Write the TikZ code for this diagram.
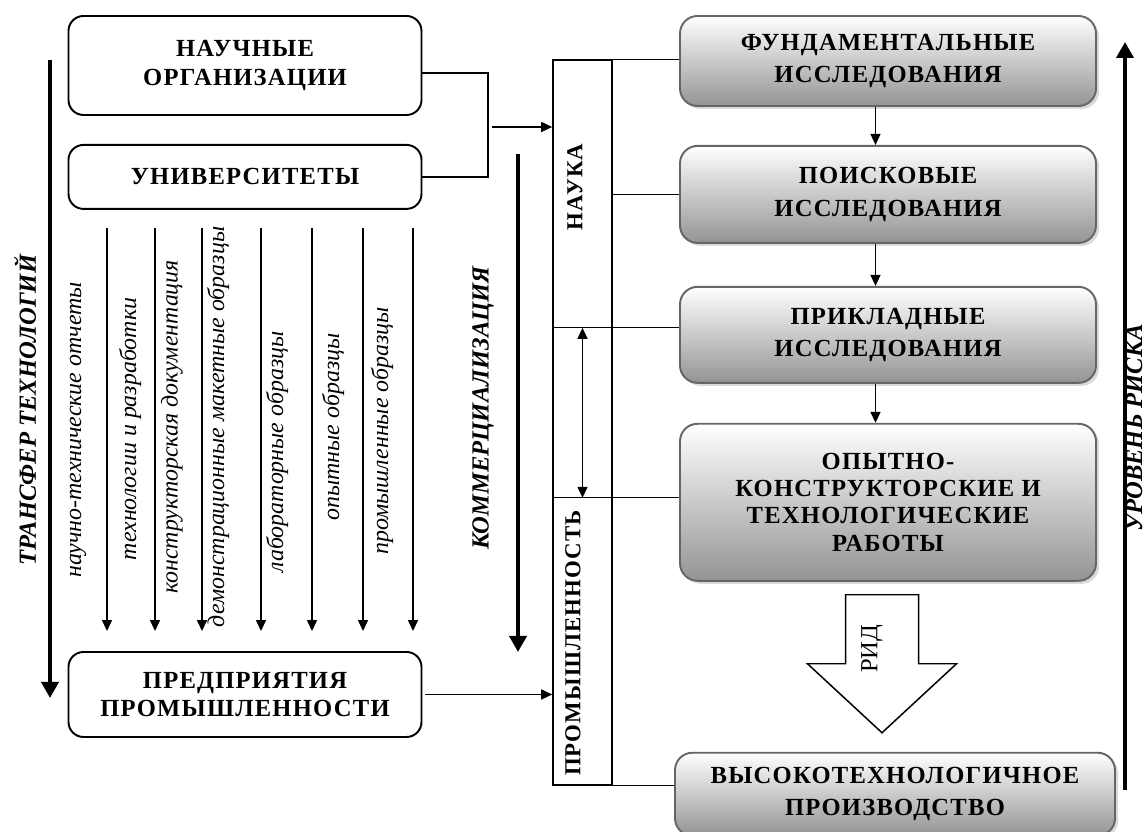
\documentclass[tikz,border=0pt]{standalone}
\usepackage{fontspec}
\setmainfont{Liberation Serif}
\newfontfamily\capsfont[LetterSpace=5.0]{Liberation Serif}
\usetikzlibrary{arrows.meta, positioning, shadows}

\begin{document}
\begin{tikzpicture}[
  node distance = 0.8cm,
  orgbox/.style   = {draw, rectangle, rounded corners=0.3cm, line width=1.1pt,
                     fill=white, minimum width=7.06cm,
                     align=center, font=\capsfont\bfseries\fontsize{14}{16}\selectfont},
  stagebox/.style = {draw=black!60, rectangle, rounded corners=0.35cm, line width=1.1pt,
                     top color=white, bottom color=black!42,
                     drop shadow={shadow xshift=0.06cm, shadow yshift=-0.06cm, opacity=0.3},
                     minimum width=8.32cm,
                     align=center, font=\capsfont\bfseries\fontsize{14}{18.5}\selectfont},
  strip/.style    = {draw, rectangle, line width=0.9pt,
                     minimum width=1.18cm, minimum height=14.5cm, inner sep=0pt},
  striptxt/.style = {rotate=90, font=\capsfont\bfseries\fontsize{13}{15}\selectfont},
  flowlbl/.style  = {rotate=90, font=\itshape\fontsize{13.6}{16}\selectfont, inner sep=0pt},
  sidelbl/.style  = {rotate=90, font=\bfseries\itshape\fontsize{14}{16}\selectfont, inner sep=0pt},
  link/.style     = {line width=0.7pt},
  arr/.style      = {-{Triangle[length=0.22cm, width=0.2cm]}, line width=0.85pt},
  twoway/.style   = {{Triangle[length=0.22cm, width=0.2cm]}-{Triangle[length=0.22cm, width=0.2cm]},
                     line width=0.85pt},
  fat/.style      = {-{Triangle[length=0.32cm, width=0.34cm]}, line width=2.1pt},
  hollow/.style   = {draw, line width=0.85pt, fill=white},
]
\useasboundingbox (0,0) rectangle (22.94,16.64);

%── Этапы (справа, сверху вниз) ───────────────────────────────────────────
\node[stagebox, minimum height=1.8cm] (fund) at (17.76,15.42)
  {ФУНДАМЕНТАЛЬНЫЕ\\ИССЛЕДОВАНИЯ};

\node[stagebox, minimum height=1.94cm, below=0.76cm of fund] (poisk)
  {ПОИСКОВЫЕ\\ИССЛЕДОВАНИЯ};

\node[stagebox, minimum height=1.92cm, below=0.84cm of poisk] (prikl)
  {ПРИКЛАДНЫЕ\\ИССЛЕДОВАНИЯ};

\node[stagebox, minimum height=3.14cm, below=0.78cm of prikl,
      font=\capsfont\bfseries\fontsize{14}{15.5}\selectfont] (okr)
  {ОПЫТНО-\\КОНСТРУКТОРСКИЕ И\\ТЕХНОЛОГИЧЕСКИЕ\\РАБОТЫ};

\node[stagebox, minimum height=1.66cm, minimum width=8.8cm,
      below=3.4cm of okr, xshift=0.14cm] (vtp)
  {ВЫСОКОТЕХНОЛОГИЧНОЕ\\ПРОИЗВОДСТВО};

%── Организации (слева) ───────────────────────────────────────────────────
\node[orgbox, minimum height=1.98cm] (nauch) at (4.9,15.33)
  {НАУЧНЫЕ\\ОРГАНИЗАЦИИ};

\node[orgbox, minimum height=1.28cm, below=0.56cm of nauch] (univ)
  {УНИВЕРСИТЕТЫ};

\node[orgbox, minimum height=1.7cm] (pred) at (4.9,2.75)
  {ПРЕДПРИЯТИЯ\\ПРОМЫШЛЕННОСТИ};

%── Полоса «наука / промышленность» ───────────────────────────────────────
\node[strip] (band) at (11.65,8.19) {};
\node[striptxt] (nauka) at (11.5,12.9)  {НАУКА};
\node[striptxt] (prom)  at (11.46,3.78) {ПРОМЫШЛЕННОСТЬ};

%── Подписи толстых стрелок ───────────────────────────────────────────────
\node[sidelbl] (trans) at (0.5,8.44)   {ТРАНСФЕР ТЕХНОЛОГИЙ};
\node[sidelbl] (comm)  at (9.66,8.48)  {КОММЕРЦИАЛИЗАЦИЯ};
\node[sidelbl] (risk)  at (22.68,8.08) {УРОВЕНЬ РИСКА};

\coordinate (trans_top) at (1.0,15.44);
\coordinate (trans_bot) at (1.0,2.68);
\coordinate (comm_top)  at (10.36,13.56);
\coordinate (comm_bot)  at (10.36,3.6);
\coordinate (risk_bot)  at (22.5,0.84);
\coordinate (risk_top)  at (22.5,15.8);

\draw[fat] (trans_top) -- (trans_bot);
\draw[fat] (comm_top)  -- (comm_bot);
\draw[fat] (risk_bot)  -- (risk_top);

%── Результаты передачи (вертикальные стрелки) ────────────────────────────
\path (univ.south) ++(0,-0.36) coordinate (flow_top);
\path (pred.north) ++(0,0.4)   coordinate (flow_bot);

\foreach \dx/\lx/\ly/\txt [count=\i] in {
  -2.76/1.56/8.04/научно-технические отчеты,
  -1.80/2.60/8.06/технологии и разработки,
  -0.86/3.44/8.10/конструкторская документация,
   0.32/4.36/8.10/демонстрационные макетные образцы,
   1.34/5.54/7.60/лабораторные образцы,
   2.36/6.66/8.10/опытные образцы,
   3.36/7.64/8.02/промышленные образцы}
{
  \draw[arr] ([xshift=\dx cm]flow_top) -- ([xshift=\dx cm]flow_bot);
  \node[flowlbl] (flow\i) at (\lx,\ly) {\txt};
}

%── Связи слева ───────────────────────────────────────────────────────────
\coordinate (brk) at (9.76,14.1);
\draw[link] ([yshift=-0.15cm]nauch.east) -| (brk) |- (univ.east);
\draw[arr]  ([xshift=0.08cm]brk) -- (brk -| band.west);
\draw[arr]  ([xshift=0.06cm]pred.east) -- (pred.east -| band.west);

%── Связи справа ──────────────────────────────────────────────────────────
\path ([yshift=0.14cm]prikl.west) coordinate (prikl_in);
\path ([yshift=0.09cm]okr.west)   coordinate (okr_in);

\draw[link] (band.north east)    -- (band.north east -| fund.west);
\draw[link] (band.east |- poisk.west) -- (poisk.west);
\draw[link] (prikl_in -| band.west)   -- (prikl_in);
\draw[link] (okr_in -| band.west)     -- (okr_in);
\draw[link] (band.south east)    -- (band.south east -| vtp.west);
\draw[twoway] (prikl_in -| band.center) -- (okr_in -| band.center);

\draw[arr] ([xshift=-0.25cm]fund.south)  -- ([xshift=-0.25cm]poisk.north);
\draw[arr] ([xshift=-0.25cm]poisk.south) -- ([xshift=-0.25cm]prikl.north);
\draw[arr] ([xshift=-0.25cm]prikl.south) -- ([xshift=-0.25cm]okr.north);

%── РИД ───────────────────────────────────────────────────────────────────
\path ([yshift=0.38cm]vtp.north) ++(-0.26,0) coordinate (rid_tip);
\draw[hollow] (rid_tip) -- ++(1.49,1.38) -- ++(-0.76,0) -- ++(0,1.38)
  -- ++(-1.46,0) -- ++(0,-1.38) -- ++(-0.76,0) -- cycle;
\node[rotate=90, font=\fontsize{14}{16}\selectfont] (rid)
  at ([xshift=-0.2cm, yshift=1.68cm]rid_tip) {РИД};

\end{tikzpicture}
\end{document}
